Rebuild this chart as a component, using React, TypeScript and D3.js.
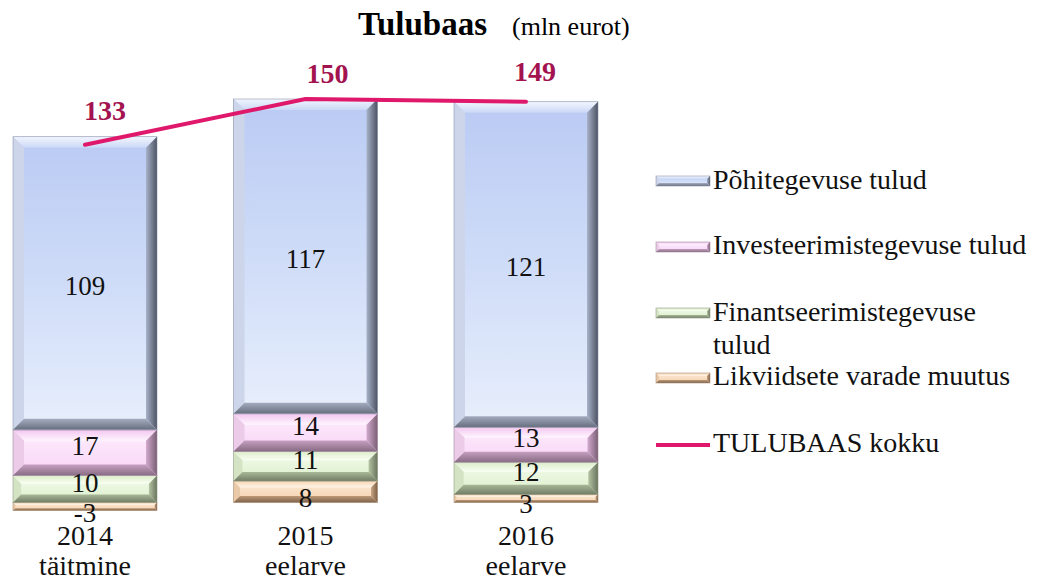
import React from 'react';
import * as d3 from 'd3';

// ---- data ----
const categoryYear = ['2014', '2015', '2016'];
const categorySub = ['täitmine', 'eelarve', 'eelarve'];
const seriesNames = [
  'Põhitegevuse tulud',
  'Investeerimistegevuse tulud',
  'Finantseerimistegevuse tulud',
  'Likviidsete varade muutus',
];
const pohitegevus = [109, 117, 121];
const investeerimis = [17, 14, 13];
const finantseerimis = [10, 11, 12];
const likviidsed = [-3, 8, 3];
const totals = [133, 150, 149];
const lineName = 'TULUBAAS kokku';

// ---- styles ----
const W = 1050;
const H = 581;
const FONT = '"Liberation Serif", "Times New Roman", serif';
const LINE_COLOR = '#E0186C';
const LINE_LABEL_COLOR = '#A3134F';
const keys = ['likv', 'fin', 'inv', 'pohi'];
const keyToSeries: Record<string, number> = { pohi: 0, inv: 1, fin: 2, likv: 3 };

const palette = [
  { // blue
    face: ['#BACAF3', '#E8EFFC'], faceMid: '#CFDCF8',
    top: ['#F2F6FE', '#CBD8F6'], left: '#CCD5EA',
    right: ['#A8B2C9', '#4C5363'], bottom: ['#A4ADC0', '#666E7E'],
    stroke: '#8A93A5',
  },
  { // pink
    face: ['#FFFFFF', '#F8D3F6'], faceMid: '#FCE6FB',
    top: ['#F3C6F0', '#FFF5FF'], left: '#EBCBE8',
    right: ['#D2AACE', '#7A5E75'], bottom: ['#C6A0C1', '#876B83'],
    stroke: '#A0889C',
  },
  { // green
    face: ['#FFFFFF', '#DAEEC8'], faceMid: '#EDF8E3',
    top: ['#DAEDC8', '#FAFEF4'], left: '#D3E3C3',
    right: ['#B4C3A3', '#69735D'], bottom: ['#A8B797', '#727D66'],
    stroke: '#8E9A82',
  },
  { // orange
    face: ['#FFF4E8', '#F5D0AB'], faceMid: '#FAE3CB',
    top: ['#F7D6B4', '#FFF4E8'], left: '#E9C9A8',
    right: ['#C9A582', '#7A5F47'], bottom: ['#BD9977', '#7E644C'],
    stroke: '#A88C72',
  },
];

// label vertical tweak per series (px) and line-label offsets
const segLabelDy = [3, -7, -6, 6];
const lineLabelDx = [20, 22, 9];
const lineLabelDy = [-25, -16, -21];

const legendSymbolY = [181, 247, 313, 378];
const legendTextY = [[189, 0], [254, 0], [321, 354], [385, 0]];
const legendLineY = 445;
const legendLineTextY = 452;

type Row = { cat: string; likv: number; fin: number; inv: number; pohi: number };
const rows: Row[] = categoryYear.map((c, i) => ({
  cat: c,
  likv: likviidsed[i],
  fin: finantseerimis[i],
  inv: investeerimis[i],
  pohi: pohitegevus[i],
}));

function Bevel({ x, y, w, h, si }: { x: number; y: number; w: number; h: number; si: number }) {
  const b = Math.max(1, Math.min(11, h * 0.3, w * 0.2));
  const p = (pts: number[][]) => pts.map((q) => q.join(',')).join(' ');
  return (
    <g>
      <rect x={x} y={y} width={w} height={h} fill={`url(#face${si})`} />
      <polygon points={p([[x, y], [x + w, y], [x + w - b, y + b], [x + b, y + b]])} fill={`url(#top${si})`} />
      <polygon points={p([[x, y], [x + b, y + b], [x + b, y + h - b], [x, y + h]])} fill={palette[si].left} />
      <polygon points={p([[x + w, y], [x + w, y + h], [x + w - b, y + h - b], [x + w - b, y + b]])} fill={`url(#right${si})`} />
      <polygon points={p([[x, y + h], [x + b, y + h - b], [x + w - b, y + h - b], [x + w, y + h]])} fill={`url(#bottom${si})`} />
      <rect x={x} y={y} width={w} height={h} fill="none" stroke={palette[si].stroke} strokeWidth={0.8} strokeOpacity={0.7} />
    </g>
  );
}

export default function App() {
  const x = d3.scaleBand<string>()
    .domain(categoryYear)
    .range([-25.25, 636.25])
    .paddingInner(0.347)
    .paddingOuter(0.1735);
  const y = d3.scaleLinear().domain([0, 150]).range([502.5, 99]);

  const stack = d3.stack<Row>().keys(keys).offset(d3.stackOffsetDiverging);
  const layers = stack(rows);

  const line = d3.line<number>()
    .x((_, i) => (x(categoryYear[i]) as number) + x.bandwidth() / 2)
    .y((d) => y(d));

  return (
    <svg width={W} height={H} style={{ position: 'absolute', left: 0, top: 0, background: '#fff' }} fontFamily={FONT}>
      <defs>
        {palette.map((c, i) => (
          <React.Fragment key={i}>
            <linearGradient id={`face${i}`} x1="0" y1="0" x2="0" y2="1">
              <stop offset="0%" stopColor={c.face[0]} />
              <stop offset={i === 0 ? '50%' : '30%'} stopColor={c.faceMid} />
              <stop offset="100%" stopColor={c.face[1]} />
            </linearGradient>
            <linearGradient id={`top${i}`} x1="0" y1="0" x2="0" y2="1">
              <stop offset="0%" stopColor={c.top[0]} />
              <stop offset="100%" stopColor={c.top[1]} />
            </linearGradient>
            <linearGradient id={`right${i}`} x1="0" y1="0" x2="1" y2="0">
              <stop offset="0%" stopColor={c.right[0]} />
              <stop offset="100%" stopColor={c.right[1]} />
            </linearGradient>
            <linearGradient id={`bottom${i}`} x1="0" y1="0" x2="0" y2="1">
              <stop offset="0%" stopColor={c.bottom[0]} />
              <stop offset="100%" stopColor={c.bottom[1]} />
            </linearGradient>
          </React.Fragment>
        ))}
      </defs>

      {/* title */}
      <text x={358} y={35} fontSize={33} fontWeight="bold" fill="#000">Tulubaas</text>
      <text x={512} y={35} fontSize={26} fill="#000">(mln eurot)</text>

      {/* bars */}
      {layers.map((layer) => {
        const si = keyToSeries[layer.key];
        return (
          <g key={layer.key}>
            {layer.map((d, i) => {
              const x0 = x(d.data.cat) as number;
              const yTop = y(Math.max(d[0], d[1]));
              const yBot = y(Math.min(d[0], d[1]));
              return <Bevel key={i} x={x0} y={yTop} w={x.bandwidth()} h={yBot - yTop} si={si} />;
            })}
          </g>
        );
      })}

      {/* segment labels */}
      {layers.map((layer) => {
        const si = keyToSeries[layer.key];
        return (
          <g key={'l' + layer.key}>
            {layer.map((d, i) => {
              const cx = (x(d.data.cat) as number) + x.bandwidth() / 2;
              const cy = (y(d[0]) + y(d[1])) / 2 + segLabelDy[si];
              const v = (d.data as any)[layer.key] as number;
              return (
                <text key={i} x={cx} y={cy} textAnchor="middle" dominantBaseline="central" fontSize={27} fill="#111">
                  {v}
                </text>
              );
            })}
          </g>
        );
      })}

      {/* total line */}
      <path d={line(totals) || ''} fill="none" stroke={LINE_COLOR} strokeWidth={4} strokeLinecap="round" strokeLinejoin="round" />
      {totals.map((t, i) => (
        <text
          key={'t' + i}
          x={(x(categoryYear[i]) as number) + x.bandwidth() / 2 + lineLabelDx[i]}
          y={y(t) + lineLabelDy[i]}
          textAnchor="middle"
          fontSize={28}
          fontWeight="bold"
          fill={LINE_LABEL_COLOR}
        >
          {t}
        </text>
      ))}

      {/* category labels */}
      {categoryYear.map((c, i) => {
        const cx = (x(c) as number) + x.bandwidth() / 2;
        return (
          <g key={'c' + i}>
            <text x={cx} y={545} textAnchor="middle" fontSize={28} fill="#111">{c}</text>
            <text x={cx} y={575} textAnchor="middle" fontSize={28} fill="#111">{categorySub[i]}</text>
          </g>
        );
      })}

      {/* legend */}
      {seriesNames.map((name, i) => {
        const words = i === 2 ? ['Finantseerimistegevuse', 'tulud'] : [name];
        return (
          <g key={'lg' + i}>
            <Bevel x={656} y={legendSymbolY[i] - 5} w={54} h={10} si={i} />
            {words.map((wd, k) => (
              <text key={k} x={713} y={legendTextY[i][k]} fontSize={28} fill="#111">{wd}</text>
            ))}
          </g>
        );
      })}
      <line x1={656} x2={710} y1={legendLineY} y2={legendLineY} stroke={LINE_COLOR} strokeWidth={4} />
      <text x={713} y={legendLineTextY} fontSize={28} fill="#111">{lineName}</text>
    </svg>
  );
}
